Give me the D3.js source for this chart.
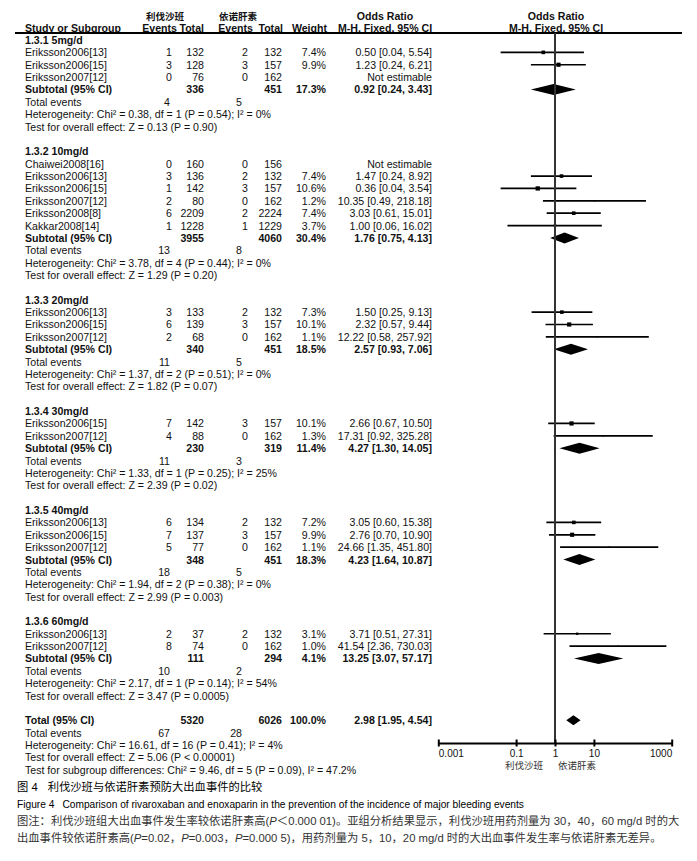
<!DOCTYPE html>
<html><head><meta charset="utf-8">
<script src="https://cdn.jsdelivr.net/npm/d3@7"></script>
<style>
body{margin:0;background:#fff;}
svg{display:block;}
text{font-family:"Liberation Sans",Arial,"Noto Sans CJK SC",sans-serif;fill:#111;}
</style></head><body>
<svg id="chart" width="697" height="861"></svg>
<script>
// ---------------- DATA ----------------
const groupNames = ["1.3.1 5mg/d","1.3.2 10mg/d","1.3.3 20mg/d","1.3.4 30mg/d","1.3.5 40mg/d","1.3.6 60mg/d"];
const studyGroup = [0,0,0, 1,1,1,1,1,1, 2,2,2, 3,3, 4,4,4, 5,5];
const studyNames = ["Eriksson2006[13]","Eriksson2006[15]","Eriksson2007[12]",
  "Chaiwei2008[16]","Eriksson2006[13]","Eriksson2006[15]","Eriksson2007[12]","Eriksson2008[8]","Kakkar2008[14]",
  "Eriksson2006[13]","Eriksson2006[15]","Eriksson2007[12]",
  "Eriksson2006[15]","Eriksson2007[12]",
  "Eriksson2006[13]","Eriksson2006[15]","Eriksson2007[12]",
  "Eriksson2006[13]","Eriksson2007[12]"];
const eventsRiv = [1,3,0, 0,3,1,2,6,1, 3,6,2, 7,4, 6,7,5, 2,8];
const totalRiv  = [132,128,76, 160,136,142,80,2209,1228, 133,139,68, 142,88, 134,137,77, 37,74];
const eventsEno = [2,3,0, 0,2,3,0,2,1, 2,3,0, 3,0, 2,3,0, 2,0];
const totalEno  = [132,157,162, 156,132,157,162,2224,1229, 132,157,162, 157,162, 132,157,162, 132,162];
const weights   = [7.4,9.9,null, null,7.4,10.6,1.2,7.4,3.7, 7.3,10.1,1.1, 10.1,1.3, 7.2,9.9,1.1, 3.1,1.0];
const oddsRatio = [0.50,1.23,null, null,1.47,0.36,10.35,3.03,1.00, 1.50,2.32,12.22, 2.66,17.31, 3.05,2.76,24.66, 3.71,41.54];
const ciLower   = [0.04,0.24,null, null,0.24,0.04,0.49,0.61,0.06, 0.25,0.57,0.58, 0.67,0.92, 0.60,0.70,1.35, 0.51,2.36];
const ciUpper   = [5.54,6.21,null, null,8.92,3.54,218.18,15.01,16.02, 9.13,9.44,257.92, 10.50,325.28, 15.38,10.90,451.80, 27.31,730.03];

const subTotalRiv  = [336,3955,340,230,348,111];
const subTotalEno  = [451,4060,451,319,451,294];
const subWeights   = [17.3,30.4,18.5,11.4,18.3,4.1];
const subOR        = [0.92,1.76,2.57,4.27,4.23,13.25];
const subLower     = [0.24,0.75,0.93,1.30,1.64,3.07];
const subUpper     = [3.43,4.13,7.06,14.05,10.87,57.17];
const subEventsRiv = [4,13,11,11,18,10];
const subEventsEno = [5,8,5,3,5,2];
const hetChi = ["0.38","3.78","1.37","1.33","1.94","2.17"];
const hetDf  = [1,4,2,1,2,1];
const hetP   = ["0.54","0.44","0.51","0.25","0.38","0.14"];
const hetI2  = ["0%","0%","0%","25%","0%","54%"];
const testZ  = ["0.13","1.29","1.82","2.39","2.99","3.47"];
const testP  = ["= 0.90","= 0.20","= 0.07","= 0.02","= 0.003","= 0.0005"];

const overallTotals = [5320, 6026];
const overallEvents = [67, 28];
const overallWeight = 100.0;
const overallOR = [2.98, 1.95, 4.54];
const overallHet = "Heterogeneity: Chi² = 16.61, df = 16 (P = 0.41); I² = 4%";
const overallTest = "Test for overall effect: Z = 5.06 (P < 0.00001)";
const subgroupTest = "Test for subgroup differences: Chi² = 9.46, df = 5 (P = 0.09), I² = 47.2%";

const axisTicks = [0.001, 0.1, 1, 10, 1000];
const axisTickLabels = ["0.001","0.1","1","10","1000"];
const armNames = ["利伐沙班","依诺肝素"];

// ---------------- LAYOUT ----------------
const svg = d3.select("#chart");
const f2 = d3.format(".2f"), f1 = d3.format(".1f");
const orText = (o,l,u) => `${f2(o)} [${f2(l)}, ${f2(u)}]`;

const x = d3.scaleLog().domain([0.001, 1000]).range([438.3, 671.7]);
const sq = d3.scaleSqrt().domain([0, 10.6]).range([0, 4.3]);

const rows = [];
groupNames.forEach((g, gi) => {
  rows.push({type:"header", g:gi});
  studyNames.forEach((s, si) => { if (studyGroup[si] === gi) rows.push({type:"study", s:si}); });
  rows.push({type:"subtotal", g:gi});
  rows.push({type:"events", g:gi});
  rows.push({type:"het", g:gi});
  rows.push({type:"test", g:gi});
  rows.push({type:"blank"});
});
rows.push({type:"total"},{type:"totalEvents"},{type:"totalHet"},{type:"totalTest"},{type:"subgroupTest"});
const yRow = d3.scaleLinear().domain([0, rows.length - 1]).range([40, 769.8]);

const col = {name:25, ev1:172, tot1:204, ev2:248, tot2:282, weight:326, or:432, evt1:170, evt2:242};
const FS = 10.6;

function txt(xp, yp, s, opt = {}) {
  const t = svg.append("text").attr("x", xp).attr("y", yp).text(s)
    .attr("font-size", opt.size || FS)
    .attr("text-anchor", opt.anchor || "start");
  if (opt.bold) t.attr("font-weight", "bold");
  if (opt.fill) t.style("fill", opt.fill);
  if (opt.family) t.style("font-family", opt.family);
  return t;
}

// Header
const hY = 32;
txt(165, 20, armNames[0], {anchor:"middle", bold:true, size:9.5});
txt(238, 20, armNames[1], {anchor:"middle", bold:true, size:9.5});
txt(385, 20, "Odds Ratio", {anchor:"middle", bold:true});
txt(556, 20, "Odds Ratio", {anchor:"middle", bold:true});
txt(col.name, hY, "Study or Subgroup", {bold:true});
txt(177, hY, "Events", {anchor:"end", bold:true});
txt(204, hY, "Total", {anchor:"end", bold:true});
txt(253, hY, "Events", {anchor:"end", bold:true});
txt(283, hY, "Total", {anchor:"end", bold:true});
txt(327, hY, "Weight", {anchor:"end", bold:true});
txt(385, hY, "M-H, Fixed, 95% CI", {anchor:"middle", bold:true});
txt(556, hY, "M-H, Fixed, 95% CI", {anchor:"middle", bold:true});

svg.append("line").attr("x1", 15).attr("x2", 682).attr("y1", 33).attr("y2", 33)
  .attr("stroke", "#000").attr("stroke-width", 1.8);

// Table rows + forest marks
const plot = svg.append("g");
rows.forEach((r, i) => {
  const y = yRow(i), by = y + 4;
  if (r.type === "header") {
    txt(col.name, by, groupNames[r.g], {bold:true});
  } else if (r.type === "study") {
    const s = r.s;
    txt(col.name, by, studyNames[s]);
    txt(col.ev1, by, eventsRiv[s], {anchor:"end"});
    txt(col.tot1, by, totalRiv[s], {anchor:"end"});
    txt(col.ev2, by, eventsEno[s], {anchor:"end"});
    txt(col.tot2, by, totalEno[s], {anchor:"end"});
    if (oddsRatio[s] == null) {
      txt(col.or, by, "Not estimable", {anchor:"end"});
    } else {
      txt(col.weight, by, f1(weights[s]) + "%", {anchor:"end"});
      txt(col.or, by, orText(oddsRatio[s], ciLower[s], ciUpper[s]), {anchor:"end"});
      plot.append("line").attr("x1", x(ciLower[s])).attr("x2", x(ciUpper[s]))
        .attr("y1", y).attr("y2", y).attr("stroke", "#000").attr("stroke-width", 1.7);
      const w = sq(weights[s]);
      plot.append("rect").attr("x", x(oddsRatio[s]) - w/2).attr("y", y - w/2)
        .attr("width", w).attr("height", w).attr("fill", "#000");
    }
  } else if (r.type === "subtotal") {
    const g = r.g;
    txt(col.name, by, "Subtotal (95% CI)", {bold:true});
    txt(col.tot1, by, subTotalRiv[g], {anchor:"end", bold:true});
    txt(col.tot2, by, subTotalEno[g], {anchor:"end", bold:true});
    txt(col.weight, by, f1(subWeights[g]) + "%", {anchor:"end", bold:true});
    txt(col.or, by, orText(subOR[g], subLower[g], subUpper[g]), {anchor:"end", bold:true});
    const pts = [[x(subLower[g]), y], [x(subOR[g]), y - 5.5], [x(subUpper[g]), y], [x(subOR[g]), y + 5.5]];
    plot.append("polygon").attr("points", pts.map(p => p.join(",")).join(" ")).attr("fill", "#000");
  } else if (r.type === "events") {
    txt(col.name, by, "Total events");
    txt(col.evt1, by, subEventsRiv[r.g], {anchor:"end"});
    txt(col.evt2, by, subEventsEno[r.g], {anchor:"end"});
  } else if (r.type === "het") {
    txt(col.name, by, `Heterogeneity: Chi² = ${hetChi[r.g]}, df = ${hetDf[r.g]} (P = ${hetP[r.g]}); I² = ${hetI2[r.g]}`);
  } else if (r.type === "test") {
    txt(col.name, by, `Test for overall effect: Z = ${testZ[r.g]} (P ${testP[r.g]})`);
  } else if (r.type === "total") {
    txt(col.name, by, "Total (95% CI)", {bold:true});
    txt(col.tot1, by, overallTotals[0], {anchor:"end", bold:true});
    txt(col.tot2, by, overallTotals[1], {anchor:"end", bold:true});
    txt(col.weight, by, f1(overallWeight) + "%", {anchor:"end", bold:true});
    txt(col.or, by, orText(...overallOR), {anchor:"end", bold:true});
    const pts = [[x(overallOR[1]), y], [x(overallOR[0]), y - 5], [x(overallOR[2]), y], [x(overallOR[0]), y + 5]];
    plot.append("polygon").attr("points", pts.map(p => p.join(",")).join(" ")).attr("fill", "#000");
  } else if (r.type === "totalEvents") {
    txt(col.name, by, "Total events");
    txt(col.evt1, by, overallEvents[0], {anchor:"end"});
    txt(col.evt2, by, overallEvents[1], {anchor:"end"});
  } else if (r.type === "totalHet") {
    txt(col.name, by, overallHet);
  } else if (r.type === "totalTest") {
    txt(col.name, by, overallTest);
  } else if (r.type === "subgroupTest") {
    txt(col.name, by, subgroupTest);
  }
});

// Axis
const axisY = 743;
svg.append("line").attr("x1", x(1)).attr("x2", x(1)).attr("y1", 33).attr("y2", axisY)
  .attr("stroke", "#333").attr("stroke-width", 2);

const ax = svg.append("g").attr("transform", `translate(0,${axisY})`)
  .call(d3.axisBottom(x).tickValues(axisTicks).tickFormat((d, i) => axisTickLabels[i]).tickSizeOuter(0).tickSize(0));
ax.select(".domain").attr("stroke", "#000").attr("stroke-width", 2.2);
ax.selectAll(".tick line").attr("y1", -3.5).attr("y2", 3.5).attr("stroke", "#000").attr("stroke-width", 2);
ax.selectAll(".tick text").attr("y", 7).attr("font-size", 10)
  .style("font-family", '"Liberation Sans",Arial,sans-serif').style("fill", "#111")
  .attr("text-anchor", (d, i) => i === 0 ? "start" : (i === axisTicks.length - 1 ? "end" : "middle"));

txt(x(1) - 31, 769, armNames[0], {anchor:"middle", size:9.5, fill:"#333", family:'"Noto Sans CJK SC",sans-serif'});
txt(x(1) + 22, 769, armNames[1], {anchor:"middle", size:9.5, fill:"#333", family:'"Noto Sans CJK SC",sans-serif'});

// Captions
const cap1 = txt(17, 791, "", {size:11.3, fill:"#000"});
cap1.append("tspan").text("图 4");
cap1.append("tspan").attr("dx", 10).text("利伐沙班与依诺肝素预防大出血事件的比较");

const cap2 = txt(17, 808, "", {size:10.2, fill:"#000"});
cap2.append("tspan").text("Figure 4");
cap2.append("tspan").attr("dx", 8).text("Comparison of rivaroxaban and enoxaparin in the prevention of the incidence of major bleeding events");

const cap3 = txt(17, 825, "", {size:11.3, fill:"#333"});
cap3.append("tspan").text("图注：利伐沙班组大出血事件发生率较依诺肝素高(");
cap3.append("tspan").style("font-style", "italic").text("P");
cap3.append("tspan").text("＜0.000 01)。亚组分析结果显示，利伐沙班用药剂量为 30，40，60 mg/d 时的大");

const cap4 = txt(17, 842, "", {size:11.3, fill:"#333"});
cap4.append("tspan").text("出血事件较依诺肝素高(");
cap4.append("tspan").style("font-style", "italic").text("P");
cap4.append("tspan").text("=0.02，");
cap4.append("tspan").style("font-style", "italic").text("P");
cap4.append("tspan").text("=0.003，");
cap4.append("tspan").style("font-style", "italic").text("P");
cap4.append("tspan").text("=0.000 5)，用药剂量为 5，10，20 mg/d 时的大出血事件发生率与依诺肝素无差异。");
</script>
</body></html>
